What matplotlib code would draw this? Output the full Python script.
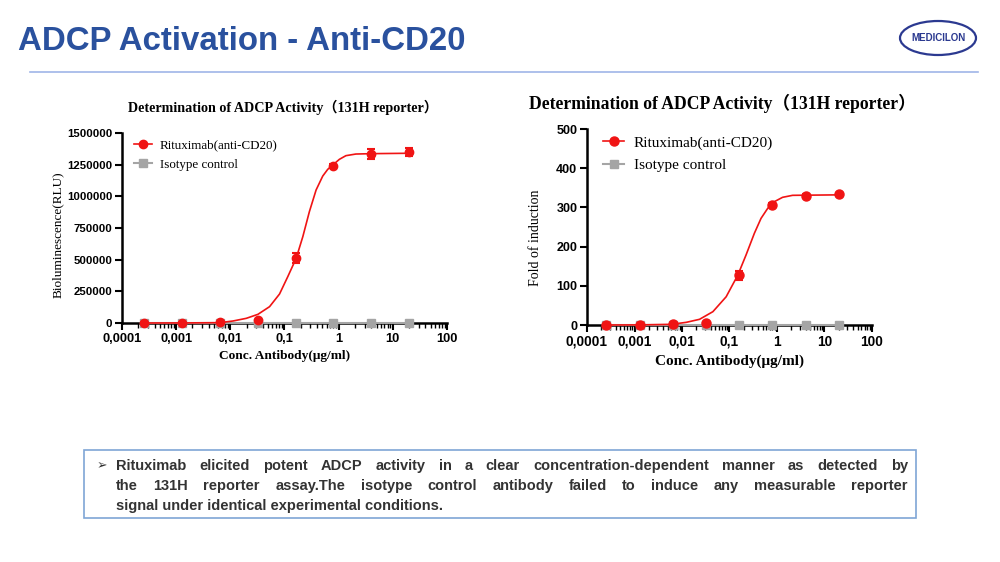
import matplotlib
matplotlib.use("Agg")
import matplotlib.pyplot as plt
from matplotlib.patches import Rectangle, Ellipse
from matplotlib.lines import Line2D

# data
conc = [0.000256, 0.00128, 0.0064, 0.032, 0.16, 0.8, 4, 20]

rlu_ritux = [3000, 3000, 4000, 21000, 512000, 1242000, 1335000, 1348000]
rlu_ritux_err = [2000, 2000, 2000, 3000, 40000, 12000, 40000, 33000]
rlu_iso = [2000, 2000, 2000, 2000, 2000, 2000, 2000, 2000]

fold_ritux = [1, 1, 1.5, 6, 127, 307, 330, 333]
fold_ritux_err = [1, 1, 1, 1.5, 12, 5, 4, 3]
fold_iso = [1, 1, 1, 1, 1, 1, 1, 1]

# fitted curves
rlu_fit_x = [0.000256, 0.00128, 0.0064, 0.0112, 0.0197, 0.0323, 0.053, 0.081, 0.115, 0.164,
             0.218, 0.288, 0.383, 0.508, 0.628, 0.776, 1.03, 1.36, 2.08, 4.2, 20]
rlu_fit_y = [0, 500, 2600, 15800, 36800, 68400, 129000, 229000, 366000, 510000,
             682000, 879000, 1050000, 1160000, 1213000, 1247000, 1292000, 1321000, 1334000, 1337000, 1340000]

fold_fit_x = [0.000256, 0.00128, 0.0060, 0.0123, 0.0234, 0.0447, 0.085, 0.150, 0.223, 0.334,
              0.461, 0.637, 0.879, 1.31, 2.13, 20]
fold_fit_y = [0, 0.3, 1.7, 6.8, 14.5, 34, 72, 127.6, 178.6, 234,
              272, 297.6, 314.6, 325.7, 330.8, 332]

xticks = [0.0001, 0.001, 0.01, 0.1, 1, 10, 100]
xtick_labels = ['0,0001', '0,001', '0,01', '0,1', '1', '10', '100']
rlu_ticks = [0, 250000, 500000, 750000, 1000000, 1250000, 1500000]
fold_ticks = [0, 100, 200, 300, 400, 500]

RED = '#f01414'
GRAY = '#a5a5a5'
SERIF = ['Liberation Serif', 'Noto Sans CJK SC', 'DejaVu Sans']
SANS = ['Liberation Sans', 'DejaVu Sans']

fig = plt.figure(figsize=(10, 5.62), dpi=100)
W, H = 1000, 562


def fx(px):
    return px / W


def fy(py):
    return 1 - py / H


# header
fig.text(fx(18), fy(42), 'ADCP Activation - Anti-CD20', fontsize=23.8, fontweight='bold',
         color='#2a519e', family=SANS, va='center', ha='left')
fig.add_artist(Line2D([fx(30), fx(978)], [fy(72), fy(72)], color='#9fb5e8', lw=1.2))
fig.add_artist(Ellipse((fx(938), fy(38)), 76 / W, 34 / H, transform=fig.transFigure,
                       fill=False, edgecolor='#2b3990', lw=1.6))
fig.text(fx(938), fy(38), 'MEDICILON', fontsize=7, fontweight='bold', color='#2b3990',
         family=SANS, ha='center', va='center')


def panel(rect, fit_x, fit_y, y, yerr, iso, yticks, ylim, ylabel,
          title_fs, xtick_fs, ytick_fs, xlab_fs, ylab_fs, leg_fs, leg_anchor, title_xy, ms):
    ax = fig.add_axes(rect)
    ax.set_xscale('log')
    ax.plot(conc, iso, color=GRAY, lw=1.5, marker='s', ms=ms - 0.5, clip_on=False, zorder=3)
    ax.plot(fit_x, fit_y, color=RED, lw=1.2, clip_on=False, zorder=4)
    ax.errorbar(conc, y, yerr=yerr, fmt='o', color=RED, ms=ms, capsize=3, elinewidth=1.5,
                capthick=1.5, clip_on=False, zorder=5)
    ax.set_xlim(1e-4, 100)
    ax.set_ylim(*ylim)
    ax.set_xticks(xticks)
    ax.set_xticklabels(xtick_labels)
    ax.set_yticks(yticks)
    ax.set_yticklabels([str(t) for t in yticks])
    for lab in ax.get_xticklabels():
        lab.set_fontweight('bold')
        lab.set_fontsize(xtick_fs)
        lab.set_family(SANS)
    for lab in ax.get_yticklabels():
        lab.set_fontweight('bold')
        lab.set_fontsize(ytick_fs)
        lab.set_family(SANS)
    ax.tick_params(which='major', length=5, width=1.5, pad=2)
    ax.tick_params(which='minor', length=3.5, width=1.0)
    ax.tick_params(axis='y', which='minor', left=False)
    for s in ['top', 'right']:
        ax.spines[s].set_visible(False)
    for s in ['left', 'bottom']:
        ax.spines[s].set_linewidth(1.8)
    ax.set_xlabel('Conc. Antibody(μg/ml)', fontsize=xlab_fs, fontweight='bold', family=SERIF,
                  labelpad=4)
    ax.set_ylabel(ylabel, fontsize=ylab_fs, family=SERIF)
    h1 = Line2D([], [], color=RED, lw=1.2, marker='o', ms=ms)
    h2 = Line2D([], [], color=GRAY, lw=1.5, marker='s', ms=ms - 0.5)
    ax.legend([h1, h2], ['Rituximab(anti-CD20)', 'Isotype control'], loc='upper left',
              bbox_to_anchor=leg_anchor, frameon=False, prop={'family': SERIF, 'size': leg_fs},
              handlelength=1.4, handletextpad=0.6, labelspacing=0.55, borderaxespad=0)
    fig.text(fx(title_xy[0]), fy(title_xy[1]), 'Determination of ADCP Activity（131H reporter）',
             fontsize=title_fs, fontweight='bold', family=SERIF, ha='center', va='center')
    return ax


axl = panel([fx(122), fy(323), (447 - 122) / W, (323 - 133) / H], rlu_fit_x, rlu_fit_y,
            rlu_ritux, rlu_ritux_err, rlu_iso, rlu_ticks, (0, 1500000),
            'Bioluminescence(RLU)',
            10.2, 9.3, 8.2, 9.6, 9.5, 9.4, (0.02, 0.995), (283, 107), 6)

axr = panel([fx(587), fy(325), (872 - 587) / W, (325 - 129) / H], fold_fit_x, fold_fit_y,
            fold_ritux, fold_ritux_err, fold_iso, fold_ticks, (0, 500),
            'Fold of induction',
            12.7, 9.9, 9, 11, 10, 11, (0.035, 0.995), (722, 103), 6.5)

# y label positions (axes fraction); the coordinate is the label's right edge
for ax, yy, xpix in [(axl, 0.463, 64), (axr, 0.444, 542)]:
    x0ax = ax.get_position().x0 * W
    ax.yaxis.set_label_coords((xpix - x0ax) / (ax.get_position().width * W), yy)

# bottom text box
fig.add_artist(Rectangle((fx(84), fy(518)), 832 / W, 68 / H, transform=fig.transFigure,
                         fill=False, edgecolor='#7fa6d6', lw=1.2))
fig.text(fx(97), fy(466), '➢', fontsize=9, family=['DejaVu Sans'], color='#333333',
         ha='left', va='center')

lines = [
    'Rituximab elicited potent ADCP activity in a clear concentration-dependent manner as detected by',
    'the 131H reporter assay.The isotype control antibody failed to induce any measurable reporter',
    'signal under identical experimental conditions.',
]
NARROW = ['Liberation Sans Narrow', 'Liberation Sans', 'DejaVu Sans']
x0, x1 = 116, 908
renderer = fig.canvas.get_renderer()
for i, line in enumerate(lines):
    ypix = 466 + 20 * i
    words = line.split(' ')
    if i == len(lines) - 1:
        fig.text(fx(x0), fy(ypix), line, fontsize=10.5, fontweight='bold', family=NARROW,
                 color='#333333', ha='left', va='center')
        continue
    arts = [fig.text(0, fy(ypix), w, fontsize=10.5, fontweight='bold', family=NARROW,
                     color='#333333', ha='left', va='center') for w in words]
    widths = [a.get_window_extent(renderer).width for a in arts]
    gap = (x1 - x0 - sum(widths)) / (len(words) - 1)
    xp = x0
    for a, wd in zip(arts, widths):
        a.set_x(fx(xp))
        xp += wd + gap

fig.savefig('out.png', dpi=100)
